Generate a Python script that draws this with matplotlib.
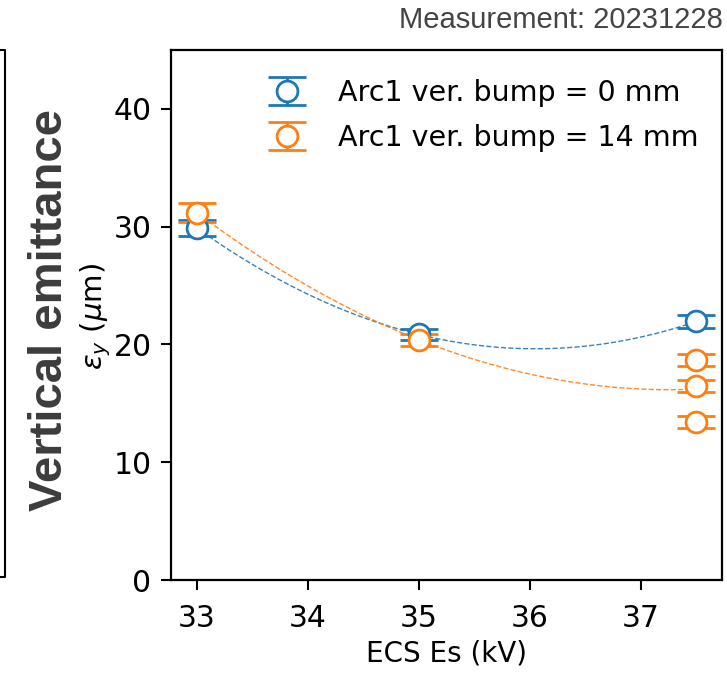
import numpy as np
import matplotlib
matplotlib.use("Agg")
from matplotlib import pyplot as plt
from matplotlib.lines import Line2D

# measured points
x_b = [33.0, 35.0, 37.5]
y_b = [29.9, 20.85, 21.95]
e_b = [0.65, 0.5, 0.55]

x_o = [33.0, 35.0, 37.5, 37.5, 37.5]
y_o = [31.2, 20.4, 18.7, 16.5, 13.4]
e_o = [0.8, 0.5, 0.5, 0.5, 0.5]

labels = ["Arc1 ver. bump = 0 mm", "Arc1 ver. bump = 14 mm"]
c_b = "#1f77b4"
c_o = "#ff7f0e"

fig = plt.figure(figsize=(7.27, 6.8), dpi=100)
ax = fig.add_axes([171/727, 100/680, 551/727, 530/680])

xf = np.linspace(33, 37.5, 200)
for xs, ys, es, col, lab in [(x_b, y_b, e_b, c_b, labels[0]), (x_o, y_o, e_o, c_o, labels[1])]:
    p = np.polyfit(xs, ys, 2)
    ax.plot(xf, np.polyval(p, xf), "--", color=col, lw=1.0, alpha=0.9)
    ax.errorbar(xs, ys, yerr=es, fmt="o", color=col, mfc="white", mec=col,
                ms=15, mew=2, elinewidth=2, capsize=14, capthick=2, label=lab)

ax.set_xlim(32.77, 37.73)
ax.set_ylim(0, 45)
ax.set_xticks([33, 34, 35, 36, 37])
ax.set_yticks([0, 10, 20, 30, 40])
ax.tick_params(labelsize=21.5, width=1.5, length=7)
ax.tick_params(axis="x", pad=10)
ax.tick_params(axis="y", pad=7)
for s in ax.spines.values():
    s.set_linewidth(1.6)
ax.set_xlabel("ECS Es (kV)", fontsize=20, labelpad=5)
ax.set_ylabel(r"$\varepsilon_y$ ($\mu$m)", fontsize=21)
ax.yaxis.set_label_coords((113 - 171) / 551, (580 - 316) / 530)
ax.legend(loc="upper left", bbox_to_anchor=(0.1126, 0.994), frameon=False,
          fontsize=20.5, handletextpad=0.8, labelspacing=0.61)

fig.text(50/727, 1 - 310/680, "Vertical emittance", rotation=90, ha="center", va="center",
         fontsize=34, fontweight="bold", family="Liberation Sans", color="#3c3c3c")
fig.text(723/727, 1 - 28/680, "Measurement: 20231228", ha="right", va="baseline",
         fontsize=21, family="Liberation Sans", color="#444444")

# edge of the neighbouring panel
fig.add_artist(Line2D([0, 5/727, 5/727, 0], [630/680, 630/680, 103/680, 103/680],
                      color="black", lw=1.5, transform=fig.transFigure))

fig.savefig("out.png", dpi=100)
